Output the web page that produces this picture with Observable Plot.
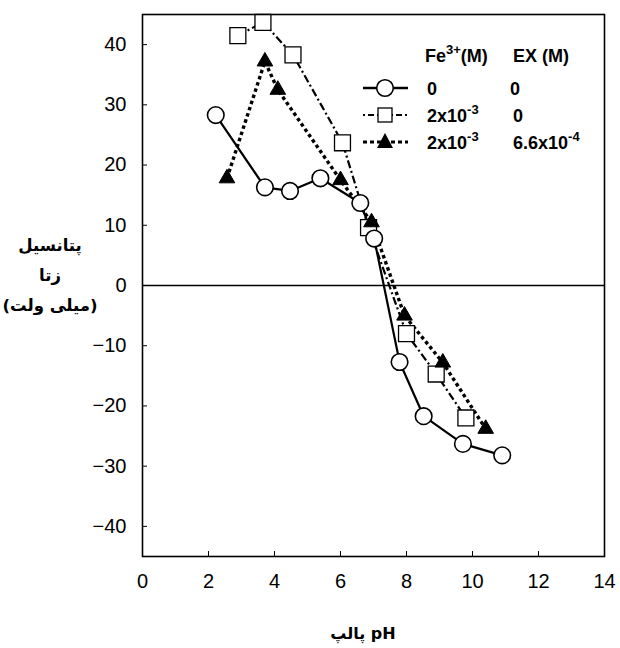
<!DOCTYPE html>
<html>
<head>
<meta charset="utf-8">
<script src="https://cdn.jsdelivr.net/npm/d3@7"></script>
<script src="https://cdn.jsdelivr.net/npm/@observablehq/plot@0.6"></script>
<style>
  body { margin: 0; background: #fff; }
  #wrap { position: relative; width: 620px; height: 648px; font-family: "Liberation Sans", Arial, sans-serif; }
  #ylabel { position: absolute; left: 0; top: 231px; width: 100px; text-align: center; font-family: "DejaVu Sans", sans-serif; font-weight: bold; font-size: 16.5px; line-height: 30px; color: #000; }
  #xlabel { position: absolute; left: 296px; top: 624px; width: 134px; text-align: center; font-family: "DejaVu Sans", sans-serif; font-weight: bold; font-size: 16px; color: #000; direction: ltr; unicode-bidi: isolate; }
  #legend { position: absolute; left: 0; top: 0; pointer-events: none; }
</style>
</head>
<body>
<div id="wrap">
  <div id="chart"></div>
  <div id="ylabel"><div>پتانسیل</div><div>زتا</div><div>(میلی ولت)</div></div>
  <div id="xlabel"><bdi>پالپ</bdi> pH</div>
</div>
<script>
// Data
const phCircle = [2.22, 3.71, 4.47, 5.39, 6.6, 7.02, 7.79, 8.52, 9.71, 10.9];
const zetaCircle = [28.3, 16.3, 15.7, 17.8, 13.7, 7.8, -12.7, -21.7, -26.3, -28.2];
const phSquare = [2.89, 3.65, 4.56, 6.06, 6.85, 8.0, 8.9, 9.8];
const zetaSquare = [41.5, 43.7, 38.3, 23.7, 9.6, -8.0, -14.7, -22.0];
const phTriangle = [2.56, 3.71, 4.1, 6.0, 6.94, 7.94, 9.1, 10.4];
const zetaTriangle = [17.8, 37.2, 32.5, 17.5, 10.5, -5.0, -12.8, -23.8];
const xTicks = [0, 2, 4, 6, 8, 10, 12, 14];
const yTicks = [-40, -30, -20, -10, 0, 10, 20, 30, 40];
const legendHeader = ["Fe", "3+", "(M)", "EX (M)"];
const legendFe = [["0", ""], ["2x10", "-3"], ["2x10", "-3"]];
const legendEx = [["0", ""], ["0", ""], ["6.6x10", "-4"]];

const circles = phCircle.map((x, i) => ({x, y: zetaCircle[i]}));
const squares = phSquare.map((x, i) => ({x, y: zetaSquare[i]}));
const triangles = phTriangle.map((x, i) => ({x, y: zetaTriangle[i]}));

const chart = Plot.plot({
  width: 620,
  height: 600,
  marginTop: 14,
  marginBottom: 44,
  marginLeft: 142,
  marginRight: 16,
  x: {domain: [0, 14]},
  y: {domain: [-45, 45]},
  style: {fontFamily: '"Liberation Sans", Arial, sans-serif', fontSize: "20px", color: "#000", background: "#fff"},
  marks: [
    Plot.ruleY([0], {stroke: "#000", strokeWidth: 1.6}),
    Plot.axisX({ticks: xTicks, tickSize: 5, dy: -5, tickPadding: 17, label: null, fontSize: 20, stroke: "#000"}),
    Plot.axisY({ticks: yTicks, tickSize: 5, dx: 5, tickPadding: 16, label: null, fontSize: 20, stroke: "#000"}),
    Plot.line(circles, {x: "x", y: "y", stroke: "#000", strokeWidth: 2.2}),
    Plot.line(squares, {x: "x", y: "y", stroke: "#000", strokeWidth: 2.2, strokeDasharray: "8,3,2,3", strokeLinecap: "butt"}),
    Plot.line(triangles, {x: "x", y: "y", stroke: "#000", strokeWidth: 3.4, strokeDasharray: "3.5,3", strokeLinecap: "butt"}),
    Plot.dot(squares, {x: "x", y: "y", symbol: "square", r: 9, fill: "#fff", stroke: "#000", strokeWidth: 1.3}),
    Plot.dot(triangles, {x: "x", y: "y", symbol: "triangle", r: 5.8, fill: "#000", stroke: "#000", strokeWidth: 1}),
    Plot.dot(circles, {x: "x", y: "y", symbol: "circle", r: 8.3, fill: "#fff", stroke: "#000", strokeWidth: 1.6}),
    Plot.frame({stroke: "#000", strokeWidth: 1.6})
  ]
});
document.getElementById("chart").appendChild(chart);

// Legend overlay
const ns = "http://www.w3.org/2000/svg";
const lg = document.createElementNS(ns, "svg");
lg.setAttribute("id", "legend");
lg.setAttribute("width", 620);
lg.setAttribute("height", 648);
document.getElementById("wrap").appendChild(lg);
function el(tag, attrs, parent) {
  const e = document.createElementNS(ns, tag);
  for (const k in attrs) e.setAttribute(k, attrs[k]);
  (parent || lg).appendChild(e);
  return e;
}
function supText(x, y, base, sup) {
  const t = el("text", {x, y, "font-family": '"Liberation Sans", Arial, sans-serif', "font-weight": "bold", "font-size": 18, fill: "#000"});
  const a = el("tspan", {}, t); a.textContent = base;
  if (sup) { const s = el("tspan", {dy: -8, "font-size": 13}, t); s.textContent = sup; }
  return t;
}
// header
const h = el("text", {x: 425, y: 62, "font-family": '"Liberation Sans", Arial, sans-serif', "font-weight": "bold", "font-size": 18, fill: "#000"});
const h1 = el("tspan", {}, h); h1.textContent = legendHeader[0];
const h2 = el("tspan", {dy: -8, "font-size": 13}, h); h2.textContent = legendHeader[1];
const h3 = el("tspan", {dy: 8}, h); h3.textContent = legendHeader[2];
const h4 = el("text", {x: 513, y: 62, "font-family": '"Liberation Sans", Arial, sans-serif', "font-weight": "bold", "font-size": 18, fill: "#000"});
h4.textContent = legendHeader[3];
const rowsY = [88, 115, 142];
// row 1: circle
el("line", {x1: 363, x2: 408, y1: rowsY[0], y2: rowsY[0], stroke: "#000", "stroke-width": 2.4});
el("circle", {cx: 385, cy: rowsY[0], r: 8.3, fill: "#fff", stroke: "#000", "stroke-width": 1.6});
// row 2: square
el("line", {x1: 363, x2: 408, y1: rowsY[1], y2: rowsY[1], stroke: "#000", "stroke-width": 2.2, "stroke-dasharray": "2,3,6,3"});
el("rect", {x: 378, y: rowsY[1] - 7, width: 14, height: 14, fill: "#fff", stroke: "#000", "stroke-width": 1.3});
// row 3: triangle
el("line", {x1: 363, x2: 408, y1: rowsY[2], y2: rowsY[2], stroke: "#000", "stroke-width": 3, "stroke-dasharray": "4,3"});
el("path", {d: `M385,${rowsY[2] - 9}L393,${rowsY[2] + 6}L377,${rowsY[2] + 6}Z`, fill: "#000"});
legendFe.forEach((d, i) => supText(427, rowsY[i] + 7, d[0], d[1]));
legendEx.forEach((d, i) => supText(i === 0 ? 510 : 513, rowsY[i] + 7, d[0], d[1]));
</script>
</body>
</html>
